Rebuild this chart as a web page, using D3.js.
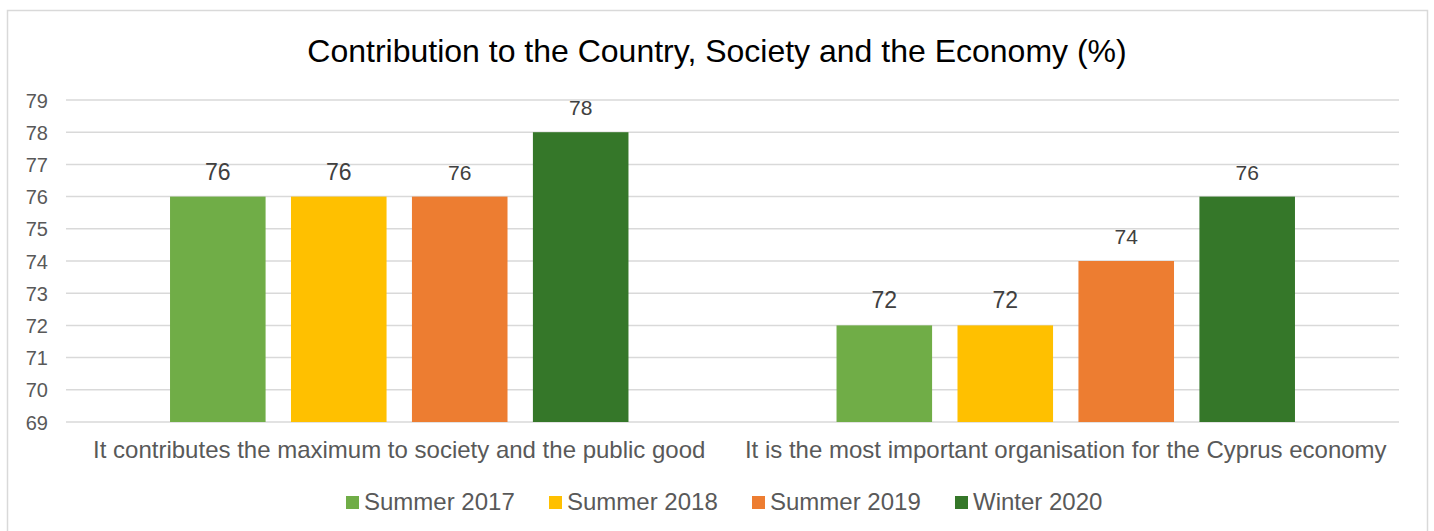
<!DOCTYPE html>
<html lang="en">
<head>
<meta charset="UTF-8">
<title>Contribution to the Country, Society and the Economy (%)</title>
<script src="https://d3js.org/d3.v7.min.js"></script>
<style>
  body { margin: 0; background: #fff; }
  svg { font-family: "Liberation Sans", Arial, sans-serif; }
  .y-axis path, .y-axis line { display: none; }
  .y-axis text { fill: #595959; font-size: 20px; }
</style>
</head>
<body>
<svg width="1434" height="531"></svg>
<script>
// chart data
const categories = [
  'It contributes the maximum to society and the public good',
  'It is the most important organisation for the Cyprus economy'
];
const seriesNames = ['Summer 2017', 'Summer 2018', 'Summer 2019', 'Winter 2020'];
const summer2017 = [76, 72];
const summer2018 = [76, 72];
const summer2019 = [76, 74];
const winter2020 = [78, 76];
const yTicks = [69, 70, 71, 72, 73, 74, 75, 76, 77, 78, 79];

const colors = ['#70AD47', '#FFC000', '#ED7D31', '#357729'];
const labelSizes = [23, 23, 21, 21];

const seriesValues = [summer2017, summer2018, summer2019, winter2020];
const rows = [];
categories.forEach((c, ci) => {
  seriesNames.forEach((s, si) => {
    rows.push({ cat: c, series: s, si: si, value: seriesValues[si][ci] });
  });
});

const svg = d3.select('svg');

// outer frame
svg.append('rect')
  .attr('x', 7.5).attr('y', 10.5)
  .attr('width', 1420).attr('height', 530)
  .attr('fill', '#fff')
  .attr('stroke', '#D9D9D9')
  .attr('stroke-width', 1.5);

svg.append('text')
  .attr('x', 717).attr('y', 62)
  .attr('text-anchor', 'middle')
  .attr('font-size', 32)
  .attr('fill', '#000')
  .text('Contribution to the Country, Society and the Economy (%)');

const plotLeft = 66, plotRight = 1399, plotTop = 100, plotBottom = 422;

const x0 = d3.scaleBand().domain(categories).range([plotLeft, plotRight]);
const x1 = d3.scaleBand().domain(seriesNames)
  .range([0, x0.bandwidth()])
  .paddingInner(0.21)
  .paddingOuter(0.86);
const y = d3.scaleLinear().domain([69, 79]).range([plotBottom, plotTop]);

// gridlines
svg.append('g').selectAll('line')
  .data(yTicks)
  .enter().append('line')
  .attr('x1', plotLeft).attr('x2', plotRight)
  .attr('y1', d => y(d)).attr('y2', d => y(d))
  .attr('stroke', '#D9D9D9')
  .attr('stroke-width', 1.5);

svg.append('g')
  .attr('class', 'y-axis')
  .attr('transform', `translate(${plotLeft - 10}, 0)`)
  .call(d3.axisLeft(y).tickValues(yTicks).tickSize(0).tickPadding(8))
  .selectAll('text').attr('dy', '0.35em');

// bars
svg.append('g').selectAll('rect')
  .data(rows)
  .enter().append('rect')
  .attr('x', d => x0(d.cat) + x1(d.series))
  .attr('y', d => y(d.value))
  .attr('width', x1.bandwidth())
  .attr('height', d => y(69) - y(d.value))
  .attr('fill', d => colors[d.si]);

// data labels
svg.append('g').selectAll('text')
  .data(rows)
  .enter().append('text')
  .attr('x', d => x0(d.cat) + x1(d.series) + x1.bandwidth() / 2)
  .attr('y', d => y(d.value) - 17)
  .attr('text-anchor', 'middle')
  .attr('font-size', d => labelSizes[d.si])
  .attr('fill', '#404040')
  .text(d => d.value);

// category labels
svg.append('g').selectAll('text')
  .data(categories)
  .enter().append('text')
  .attr('x', d => x0(d) + x0.bandwidth() / 2)
  .attr('y', 458)
  .attr('text-anchor', 'middle')
  .attr('font-size', 24)
  .attr('fill', '#595959')
  .text(d => d);

// legend
const legend = svg.append('g').selectAll('g')
  .data(seriesNames)
  .enter().append('g')
  .attr('transform', (d, i) => `translate(${346 + i * 203}, 502)`);
legend.append('rect')
  .attr('x', 0).attr('y', -6)
  .attr('width', 13).attr('height', 13)
  .attr('fill', (d, i) => colors[i]);
legend.append('text')
  .attr('x', 18).attr('y', 0)
  .attr('dy', '0.35em')
  .attr('font-size', 24)
  .attr('fill', '#595959')
  .text(d => d);
</script>
</body>
</html>
